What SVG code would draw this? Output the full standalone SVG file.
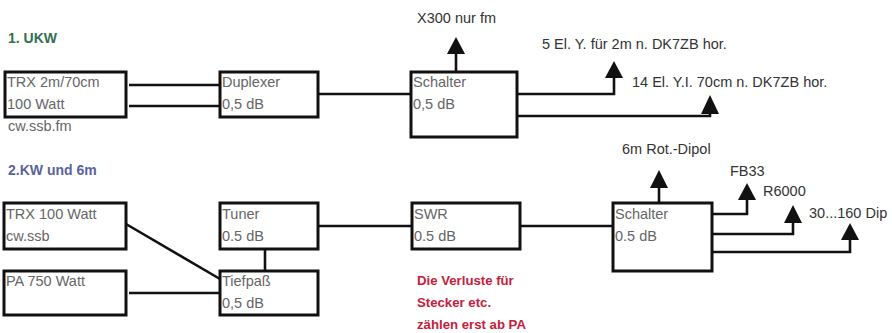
<svg xmlns="http://www.w3.org/2000/svg" width="892" height="333" viewBox="0 0 892 333">
<defs>
<style>
.box{fill:#fff;stroke:#111;stroke-width:3}
.ln{fill:none;stroke:#111;stroke-width:2.6}
.bt{font-family:"Liberation Sans",Arial,sans-serif;font-size:14.5px;fill:#666}
.lb{font-family:"Liberation Sans",Arial,sans-serif;font-size:14.5px;fill:#333}
.h1{font-family:"Liberation Sans",Arial,sans-serif;font-size:14px;font-weight:bold;fill:#2f7050}
.h2{font-family:"Liberation Sans",Arial,sans-serif;font-size:14px;font-weight:bold;fill:#5a62a0}
.rd{font-family:"Liberation Sans",Arial,sans-serif;font-size:13.2px;font-weight:bold;fill:#c5203c}
.ah{fill:#111}
</style>
</defs>
<rect width="892" height="333" fill="#fff"/>
<text class="h1" x="8" y="43">1. UKW</text>
<text class="h2" x="8" y="175">2.KW und 6m</text>

<g id="connectors">
<path class="ln" d="M129 85H220M129 106H220"/>
<path class="ln" d="M318 94H411"/>
<path class="ln" d="M456 71V52"/>
<path class="ln" d="M517 94H614V77"/>
<path class="ln" d="M517 116H710V112"/>
<path class="ln" d="M126 224L220 279"/>
<path class="ln" d="M129 293H220"/>
<path class="ln" d="M265 249V270"/>
<path class="ln" d="M318 226H412"/>
<path class="ln" d="M520 226H613"/>
<path class="ln" d="M659 202V187"/>
<path class="ln" d="M712 214H747V199"/>
<path class="ln" d="M712 234H793V222"/>
<path class="ln" d="M712 252H850V238"/>
<polygon class="ah" points="456,37 447,54 465,54"/>
<polygon class="ah" points="614,61 605,78 623,78"/>
<polygon class="ah" points="710,95 701,114 719,114"/>
<polygon class="ah" points="659,170 650,188 668,188"/>
<polygon class="ah" points="747,183 738,200 756,200"/>
<polygon class="ah" points="793,205 784,223 802,223"/>
<polygon class="ah" points="850,223 841,240 859,240"/>
</g>

<g id="trx-ukw">
<rect class="box" x="5" y="72" width="121" height="45"/>
<text class="bt" x="7" y="87">TRX 2m/70cm</text>
<text class="bt" x="7" y="109">100 Watt</text>
<text class="bt" x="8" y="131">cw.ssb.fm</text>
</g>
<g id="duplexer">
<rect class="box" x="220" y="72" width="98" height="45"/>
<text class="bt" x="222" y="87">Duplexer</text>
<text class="bt" x="222" y="109">0,5 dB</text>
</g>
<g id="schalter-ukw">
<rect class="box" x="411" y="72" width="106" height="65"/>
<text class="bt" x="413" y="87">Schalter</text>
<text class="bt" x="413" y="109">0,5 dB</text>
</g>
<text class="lb" x="417" y="23">X300 nur fm</text>
<text class="lb" x="542" y="49">5 El. Y. für 2m n. DK7ZB hor.</text>
<text class="lb" x="632" y="87">14 El. Y.I. 70cm n. DK7ZB hor.</text>

<g id="trx-kw">
<rect class="box" x="4" y="203" width="122" height="46"/>
<text class="bt" x="6" y="219">TRX 100 Watt</text>
<text class="bt" x="6" y="241">cw.ssb</text>
</g>
<g id="pa">
<rect class="box" x="4" y="271" width="122" height="44"/>
<text class="bt" x="6" y="286">PA 750 Watt</text>
</g>
<g id="tuner">
<rect class="box" x="220" y="203" width="98" height="46"/>
<text class="bt" x="222" y="219">Tuner</text>
<text class="bt" x="222" y="241">0.5 dB</text>
</g>
<g id="tiefpass">
<rect class="box" x="220" y="271" width="98" height="44"/>
<text class="bt" x="222" y="286">Tiefpaß</text>
<text class="bt" x="222" y="308">0,5 dB</text>
</g>
<g id="swr">
<rect class="box" x="412" y="203" width="108" height="46"/>
<text class="bt" x="414" y="219">SWR</text>
<text class="bt" x="414" y="241">0.5 dB</text>
</g>
<g id="schalter-kw">
<rect class="box" x="613" y="203" width="99" height="68"/>
<text class="bt" x="615" y="219">Schalter</text>
<text class="bt" x="615" y="241">0.5 dB</text>
</g>
<text class="lb" x="622" y="154">6m Rot.-Dipol</text>
<text class="lb" x="730" y="176">FB33</text>
<text class="lb" x="763" y="196">R6000</text>
<text class="lb" x="809" y="218">30...160 Dip</text>

<text class="rd" x="417" y="285">Die Verluste für</text>
<text class="rd" x="417" y="307">Stecker etc.</text>
<text class="rd" x="417" y="329">zählen erst ab PA</text>
</svg>
